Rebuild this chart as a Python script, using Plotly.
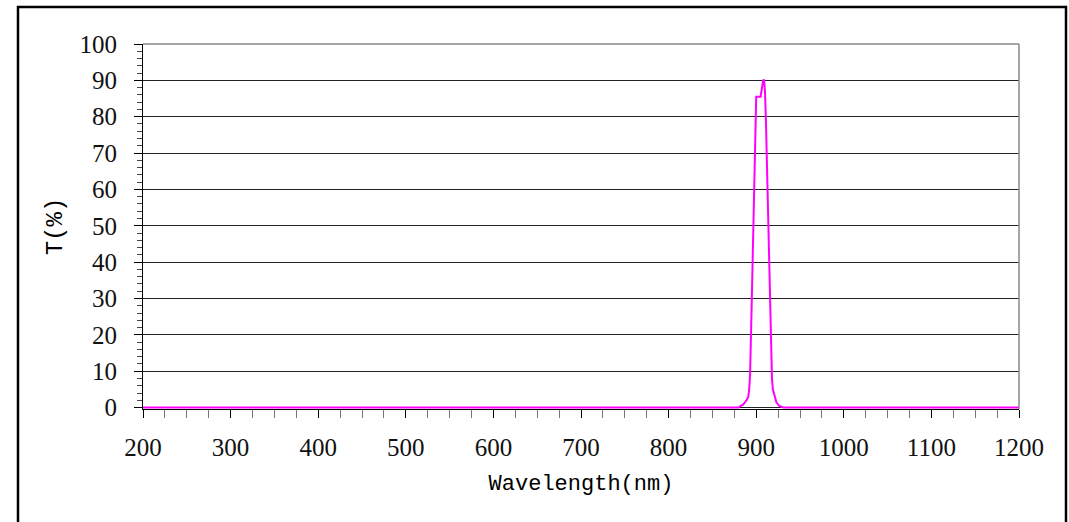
import plotly.graph_objects as go

# Transmission spectrum of a narrow band-pass filter
wavelength_nm = [200, 880, 882, 885, 889, 891, 892, 893, 895, 897, 899, 900,
                 905, 906.5, 908, 909, 910, 911, 913, 915, 917, 918, 919,
                 921.5, 923, 926, 931, 1200]
transmission = [0, 0, 0.4, 0.8, 2, 3, 5, 9, 30, 55, 82, 85.5,
                85.5, 88, 90, 90, 87, 80, 60, 37, 14, 8, 5,
                3, 1.5, 0.5, 0, 0]

x_ticks = [200, 300, 400, 500, 600, 700, 800, 900, 1000, 1100, 1200]
y_ticks = [0, 10, 20, 30, 40, 50, 60, 70, 80, 90, 100]

W, H = 1069, 522
L, R, T, B = 143, 50, 44, 113
pw, ph = W - L - R, H - T - B

serif = "Liberation Serif"
mono = "Liberation Mono"

fig = go.Figure()
fig.add_trace(go.Scatter(
    x=wavelength_nm, y=transmission, mode="lines",
    line=dict(color="#FF00FF", width=2), showlegend=False,
    hoverinfo="skip",
))

fig.update_layout(
    width=W, height=H,
    margin=dict(l=L, r=R, t=T, b=B),
    paper_bgcolor="white", plot_bgcolor="white",
    xaxis=dict(
        range=[200, 1200], tickvals=x_ticks,
        ticks="outside", ticklen=8, tickwidth=1, tickcolor="black",
        minor=dict(dtick=25, tick0=200, ticks="outside", ticklen=8,
                   tickcolor="#777777", tickwidth=1, showgrid=False),
        showgrid=False, zeroline=False,
        showline=True, linecolor="black", linewidth=1,
        layer="below traces",
        tickfont=dict(family=serif, size=25, color="#111111"),
        ticklabelstandoff=8,
        title=dict(text="Wavelength(nm)", standoff=14,
                   font=dict(family=mono, size=22, color="black")),
    ),
    yaxis=dict(
        range=[-0.4, 100], tickvals=y_ticks,
        ticks="outside", ticklen=8, tickwidth=1, tickcolor="black",
        minor=dict(dtick=2, tick0=0, ticks="outside", ticklen=5,
                   tickcolor="#444444", tickwidth=1, showgrid=False),
        showgrid=True, gridcolor="#222222", gridwidth=1,
        zeroline=False,
        showline=True, linecolor="black", linewidth=1,
        layer="below traces",
        tickfont=dict(family=serif, size=25, color="#111111"),
        ticklabelstandoff=12,
        title=dict(text="T(%)", standoff=10,
                   font=dict(family=mono, size=24, color="black")),
    ),
    shapes=[
        # grey frame on the top and right of the plot area
        dict(type="line", xref="paper", yref="paper", x0=0, x1=1, y0=1, y1=1,
             line=dict(color="#888888", width=1.5)),
        dict(type="line", xref="paper", yref="paper", x0=1, x1=1, y0=0, y1=1,
             line=dict(color="#888888", width=1.5)),
        # outer chart border
        dict(type="rect", xref="paper", yref="paper",
             x0=(18 - L) / pw, x1=(1066 - L) / pw,
             y0=-(H - T - ph + 20) / ph, y1=(T + ph - 7) / ph,
             line=dict(color="black", width=2.5), layer="below"),
    ],
)

fig.write_html("out.html")
